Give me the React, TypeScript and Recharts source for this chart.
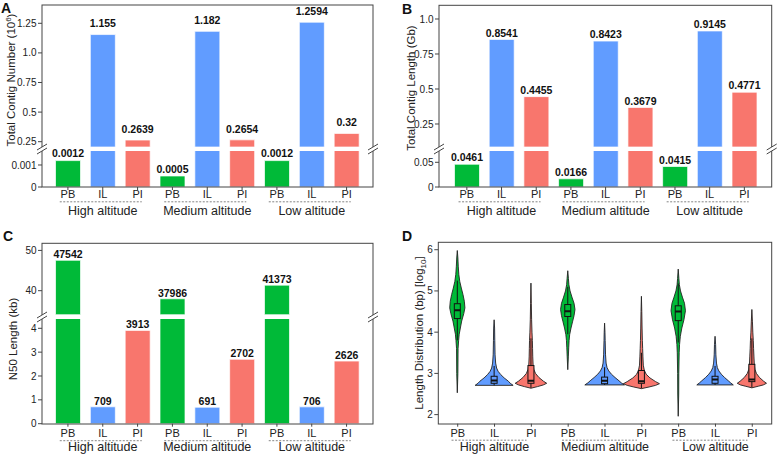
import React from "react";
import { Bar, BarChart, Cell, LabelList, XAxis, YAxis } from "recharts";

const FONT = '"Liberation Sans", Arial, Helvetica, sans-serif';
const INK = "#222";
const FRAME = "#444";

const altitudes = ["High altitude", "Medium altitude", "Low altitude"];
const groups = ["PB", "IL", "PI"];
const groupColors: Record<string, string> = { PB: "#00BA38", IL: "#619CFF", PI: "#F8766D" };

// A: total contig number (10^6), one value per altitude (High, Medium, Low)
const contigNumberPB = [0.0012, 0.0005, 0.0012];
const contigNumberIL = [1.155, 1.182, 1.2594];
const contigNumberPI = [0.2639, 0.2654, 0.32];
const contigNumberUpperTicks = [0.25, 0.5, 0.75, 1.0, 1.25];
const contigNumberUpperLabels = ["0.25", "0.5", "0.75", "1.0", "1.25"];
const contigNumberLowerTicks = [0, 0.001];
const contigNumberLowerLabels = ["0", "0.001"];

// B: total contig length (Gb)
const contigLengthPB = [0.0461, 0.0166, 0.0415];
const contigLengthIL = [0.8541, 0.8423, 0.9145];
const contigLengthPI = [0.4455, 0.3679, 0.4771];
const contigLengthUpperTicks = [0.25, 0.5, 0.75, 1.0];
const contigLengthUpperLabels = ["0.25", "0.5", "0.75", "1.0"];
const contigLengthLowerTicks = [0, 0.05];
const contigLengthLowerLabels = ["0", "0.05"];

// C: N50 length (bp, plotted in kb)
const n50PB = [47542, 37986, 41373];
const n50IL = [709, 691, 706];
const n50PI = [3913, 2702, 2626];
const n50UpperTicks = [40, 50];
const n50UpperLabels = ["40", "50"];
const n50LowerTicks = [0, 1, 2, 3, 4];
const n50LowerLabels = ["0", "1", "2", "3", "4"];

// D: contig length distribution, log10(bp); profiles are [value, relative half width]
const lengthTicks = [2, 3, 4, 5, 6];
const profileHighPB = [[2.53, 0], [3.0, 0.03], [3.6, 0.04], [3.8, 0.07], [3.95, 0.1], [4.1, 0.16], [4.27, 0.23], [4.45, 0.34], [4.59, 0.4], [4.75, 0.37], [4.91, 0.3], [5.07, 0.21], [5.23, 0.13], [5.4, 0.08], [5.6, 0.05], [5.8, 0.03], [5.98, 0]];
const profileHighIL = [[2.71, 1.0], [2.76, 0.85], [2.81, 0.75], [2.89, 0.53], [2.97, 0.35], [3.05, 0.21], [3.13, 0.13], [3.25, 0.08], [3.45, 0.05], [3.8, 0.035], [4.1, 0.025], [4.3, 0]];
const profileHighPI = [[2.64, 0], [2.68, 0.35], [2.72, 0.65], [2.76, 0.83], [2.81, 0.66], [2.9, 0.42], [3.0, 0.24], [3.1, 0.15], [3.2, 0.115], [3.4, 0.095], [3.6, 0.085], [3.8, 0.075], [4.0, 0.055], [4.3, 0.035], [4.7, 0.02], [5.19, 0]];
const profileMediumPB = [[3.09, 0], [3.4, 0.03], [3.62, 0.05], [3.8, 0.07], [3.94, 0.1], [4.1, 0.17], [4.25, 0.25], [4.4, 0.33], [4.55, 0.38], [4.7, 0.33], [4.85, 0.22], [5.0, 0.12], [5.15, 0.06], [5.3, 0.035], [5.49, 0]];
const profileMediumIL = [[2.72, 1.04], [2.77, 0.88], [2.82, 0.76], [2.9, 0.55], [2.98, 0.36], [3.06, 0.22], [3.14, 0.13], [3.25, 0.08], [3.45, 0.05], [3.8, 0.03], [4.0, 0.02], [4.22, 0]];
const profileMediumPI = [[2.63, 0], [2.67, 0.4], [2.71, 0.75], [2.75, 0.95], [2.8, 0.75], [2.89, 0.45], [2.98, 0.25], [3.08, 0.15], [3.2, 0.1], [3.4, 0.08], [3.6, 0.065], [3.8, 0.05], [4.1, 0.035], [4.5, 0.02], [4.87, 0]];
const profileLowPB = [[1.96, 0], [2.5, 0.025], [3.0, 0.03], [3.5, 0.05], [3.7, 0.07], [3.9, 0.11], [4.1, 0.19], [4.3, 0.3], [4.52, 0.38], [4.7, 0.33], [4.85, 0.22], [5.0, 0.12], [5.15, 0.06], [5.3, 0.035], [5.53, 0]];
const profileLowIL = [[2.72, 0.96], [2.77, 0.82], [2.82, 0.7], [2.9, 0.5], [2.98, 0.33], [3.06, 0.2], [3.14, 0.12], [3.25, 0.075], [3.45, 0.045], [3.7, 0.03], [3.9, 0]];
const profileLowPI = [[2.65, 0], [2.69, 0.35], [2.72, 0.6], [2.76, 0.77], [2.81, 0.62], [2.9, 0.4], [3.0, 0.24], [3.1, 0.16], [3.2, 0.13], [3.4, 0.11], [3.6, 0.09], [3.8, 0.075], [4.0, 0.05], [4.25, 0.03], [4.55, 0]];
const violinProfiles = [profileHighPB, profileHighIL, profileHighPI, profileMediumPB, profileMediumIL, profileMediumPI, profileLowPB, profileLowIL, profileLowPI];
const boxQ1 = [4.33, 2.76, 2.76, 4.38, 2.75, 2.76, 4.28, 2.76, 2.8];
const boxMedian = [4.53, 2.83, 2.82, 4.51, 2.82, 2.81, 4.5, 2.85, 2.85];
const boxQ3 = [4.69, 2.93, 3.19, 4.67, 2.91, 3.07, 4.64, 2.93, 3.22];
const whiskerLow = [3.8, 2.71, 2.65, 3.95, 2.72, 2.64, 3.75, 2.72, 2.66];
const whiskerHigh = [5.25, 3.18, 3.85, 5.1, 3.15, 3.5, 5.18, 3.18, 3.85];

type Row = { key: string; group: string; value: number; label: string };

function buildRows(byGroup: Record<string, number[]>, divisor = 1): Row[] {
  const rows: Row[] = [];
  altitudes.forEach((alt, i) => {
    groups.forEach((g) => {
      const raw = byGroup[g][i];
      rows.push({ key: `${g}|${alt}`, group: g, value: raw / divisor, label: String(raw) });
    });
  });
  return rows;
}

const violinRows = violinProfiles.map((profile, i) => ({
  key: `${groups[i % 3]}|${altitudes[Math.floor(i / 3)]}`,
  group: groups[i % 3],
  profile,
  min: profile[0][0],
  max: profile[profile.length - 1][0],
  q1: boxQ1[i],
  median: boxMedian[i],
  q3: boxQ3[i],
  whiskerLow: whiskerLow[i],
  whiskerHigh: whiskerHigh[i],
}));

type Geom = {
  left: number; width: number; plotLeft: number; plotRight: number;
  top: number; breakTop: number; breakBottom: number; bottom: number;
  axisHeight: number; padL: number; padR: number;
  catDy: number; dashDy: number; groupDy: number; dashL: number; dashR: number;
};

function CategoryTick(props: any) {
  const { x, y, payload, catDy, dashDy, groupDy, dashL, dashR } = props;
  const [group, altitude] = String(payload.value).split("|");
  return (
    <g>
      <text x={x} y={y + catDy} textAnchor="middle" fontSize={11} fill={INK}>{group}</text>
      {group === "IL" && (
        <g>
          <line x1={x - dashL} x2={x + dashR} y1={y + dashDy} y2={y + dashDy} stroke="#666" strokeWidth={0.8} strokeDasharray="2 1.5" />
          <text x={x} y={y + groupDy} textAnchor="middle" fontSize={12.5} fill={INK}>{altitude}</text>
        </g>
      )}
    </g>
  );
}

const valueLabel = (lift: number) => (props: any) => {
  const vb = props.viewBox ?? props;
  if (props.value == null || props.value === "") return null;
  return (
    <text x={vb.x + vb.width / 2} y={vb.y - lift} textAnchor="middle" fontSize={10.5} fontWeight="bold" fill="#111">
      {props.value}
    </text>
  );
};

function yAxisProps(ticks: number[], labels: string[], domain: number[], width: number) {
  return {
    type: "number" as const,
    domain,
    allowDataOverflow: true,
    ticks,
    interval: 0 as const,
    width,
    axisLine: false,
    tickSize: 4,
    tickMargin: 1.5,
    tickLine: { stroke: FRAME },
    tick: { fontSize: 10, fill: INK },
    tickFormatter: (v: number) => labels[ticks.indexOf(v)] ?? String(v),
  };
}

function BrokenBarPanel(props: {
  g: Geom; rows: Row[];
  upperDomain: number[]; lowerDomain: number[];
  upperTicks: number[]; upperLabels: string[]; lowerTicks: number[]; lowerLabels: string[];
  upperLift: number; lowerLift: number;
}) {
  const { g, rows, upperDomain, lowerDomain } = props;
  const data = rows.map((r) => ({
    ...r,
    hi: r.value >= upperDomain[0] ? r.value : null,
    hiLabel: r.value >= upperDomain[0] ? r.label : null,
    loLabel: r.value <= lowerDomain[1] ? r.label : null,
  }));
  const yw = g.plotLeft - g.left;
  const mr = g.left + g.width - g.plotRight;
  const bars = (valueKey: string, labelKey: string, lift: number) => (
    <Bar dataKey={valueKey} barSize={25} isAnimationActive={false} stroke="#fff" strokeWidth={0.7}>
      {data.map((r) => <Cell key={r.key} fill={groupColors[r.group]} />)}
      <LabelList dataKey={labelKey} content={valueLabel(lift)} />
    </Bar>
  );
  return (
    <>
      <div style={{ position: "absolute", left: g.left, top: g.top }}>
        <BarChart width={g.width} height={g.breakTop - g.top} data={data} margin={{ top: 0, right: mr, bottom: 0, left: 0 }}>
          <XAxis dataKey="key" hide padding={{ left: g.padL, right: g.padR }} />
          <YAxis {...yAxisProps(props.upperTicks, props.upperLabels, upperDomain, yw)} />
          {bars("hi", "hiLabel", props.upperLift)}
        </BarChart>
      </div>
      <div style={{ position: "absolute", left: g.left, top: g.breakBottom }}>
        <BarChart width={g.width} height={g.bottom - g.breakBottom + g.axisHeight} data={data} margin={{ top: 0, right: mr, bottom: 0, left: 0 }}>
          <XAxis
            dataKey="key"
            height={g.axisHeight}
            padding={{ left: g.padL, right: g.padR }}
            interval={0}
            axisLine={false}
            tickSize={3}
            tickMargin={2}
            tickLine={{ stroke: FRAME }}
            tick={<CategoryTick catDy={g.catDy} dashDy={g.dashDy} groupDy={g.groupDy} dashL={g.dashL} dashR={g.dashR} />}
          />
          <YAxis {...yAxisProps(props.lowerTicks, props.lowerLabels, lowerDomain, yw)} />
          {bars("value", "loLabel", props.lowerLift)}
        </BarChart>
      </div>
    </>
  );
}

const VIOLIN_HALF = 19;

function ViolinShape(props: any) {
  const { x, y, width, height, payload } = props;
  if (!payload || !height) return null;
  const p = payload;
  const cx = x + width / 2;
  const yOf = (v: number) => y + (height * (p.max - v)) / (p.max - p.min);
  const right = p.profile.map(([v, w]: number[]) => `${(cx + w * VIOLIN_HALF).toFixed(2)},${yOf(v).toFixed(2)}`);
  const left = [...p.profile].reverse().map(([v, w]: number[]) => `${(cx - w * VIOLIN_HALF).toFixed(2)},${yOf(v).toFixed(2)}`);
  const d = `M${right.join("L")}L${left.join("L")}Z`;
  const bw = 3;
  const color = groupColors[p.group];
  return (
    <g>
      <path d={d} fill={color} stroke="#222" strokeWidth={0.9} strokeLinejoin="round" />
      <line x1={cx} x2={cx} y1={yOf(p.whiskerLow)} y2={yOf(p.q1)} stroke="#111" strokeWidth={1} />
      <line x1={cx} x2={cx} y1={yOf(p.q3)} y2={yOf(p.whiskerHigh)} stroke="#111" strokeWidth={1} />
      <rect x={cx - bw} y={yOf(p.q3)} width={bw * 2} height={yOf(p.q1) - yOf(p.q3)} fill={color} stroke="#111" strokeWidth={1} />
      <line x1={cx - bw} x2={cx + bw} y1={yOf(p.median)} y2={yOf(p.median)} stroke="#111" strokeWidth={2} />
    </g>
  );
}

const geomA: Geom = { left: 0, width: 390, plotLeft: 42, plotRight: 373, top: 5, breakTop: 147, breakBottom: 151, bottom: 187, axisHeight: 40, padL: 8.5, padR: 9, catDy: 5.8, dashDy: 9.8, groupDy: 23, dashL: 43, dashR: 39 };
const geomB: Geom = { left: 390, width: 387, plotLeft: 439, plotRight: 771.7, top: 5.3, breakTop: 147.3, breakBottom: 151, bottom: 187, axisHeight: 40, padL: 10.5, padR: 10, catDy: 5.8, dashDy: 9.8, groupDy: 23, dashL: 43, dashR: 39 };
const geomC: Geom = { left: 0, width: 390, plotLeft: 42, plotRight: 373, top: 243.3, breakTop: 315, breakBottom: 319.3, bottom: 424, axisHeight: 31, padL: 8.5, padR: 9, catDy: 8.5, dashDy: 12, groupDy: 22.8, dashL: 43, dashR: 39 };
const geomD = { left: 390, width: 387, plotLeft: 438.3, plotRight: 771.7, top: 242.3, bottom: 424, axisHeight: 31 };

function BreakMark({ x, y }: { x: number; y: number }) {
  return (
    <g>
      <rect x={x - 2} y={y - 2} width={4} height={4} fill="#fff" />
      <line x1={x - 5} y1={y + 1} x2={x + 5} y2={y - 5} stroke={FRAME} strokeWidth={1} />
      <line x1={x - 5} y1={y + 5} x2={x + 5} y2={y - 1} stroke={FRAME} strokeWidth={1} />
    </g>
  );
}

function Overlay() {
  const frame = (l: number, t: number, r: number, b: number) => (
    <rect x={l} y={t} width={r - l} height={b - t} fill="none" stroke={FRAME} strokeWidth={1} />
  );
  return (
    <svg width={777} height={455} style={{ position: "absolute", left: 0, top: 0, pointerEvents: "none" }}>
      {frame(geomA.plotLeft, geomA.top, geomA.plotRight, geomA.bottom)}
      {frame(geomB.plotLeft, geomB.top, geomB.plotRight, geomB.bottom)}
      {frame(geomC.plotLeft, geomC.top, geomC.plotRight, geomC.bottom)}
      {frame(geomD.plotLeft, geomD.top, geomD.plotRight, geomD.bottom)}
      <BreakMark x={geomA.plotLeft} y={149} />
      <BreakMark x={geomA.plotRight} y={149} />
      <BreakMark x={geomB.plotLeft} y={149} />
      <BreakMark x={geomB.plotRight} y={149} />
      <BreakMark x={geomC.plotLeft} y={317} />
      <BreakMark x={geomC.plotRight} y={317} />
      <g fontSize={11.5} fill={INK}>
        <text transform="translate(14.5,80) rotate(-90)" textAnchor="middle">
          Total Contig Number (10<tspan dy={-4} fontSize={8}>6</tspan><tspan dy={4}>)</tspan>
        </text>
        <text transform="translate(414.5,88) rotate(-90)" textAnchor="middle">Total Contig Length (Gb)</text>
        <text transform="translate(17,339) rotate(-90)" textAnchor="middle">N50 Length (kb)</text>
        <text transform="translate(423,333) rotate(-90)" textAnchor="middle">
          Length Distribution (bp) [log<tspan dy={3} fontSize={8}>10</tspan><tspan dy={-3}>]</tspan>
        </text>
      </g>
      <g fontSize={14} fontWeight="bold" fill="#111">
        <text x={1} y={13}>A</text>
        <text x={402} y={13.5}>B</text>
        <text x={3} y={241}>C</text>
        <text x={402} y={241}>D</text>
      </g>
    </svg>
  );
}

export default function App() {
  const rowsA = buildRows({ PB: contigNumberPB, IL: contigNumberIL, PI: contigNumberPI });
  const rowsB = buildRows({ PB: contigLengthPB, IL: contigLengthIL, PI: contigLengthPI });
  const rowsC = buildRows({ PB: n50PB, IL: n50IL, PI: n50PI }, 1000);
  return (
    <div style={{ position: "absolute", left: 0, top: 0, width: 777, height: 455, background: "#fff", fontFamily: FONT, overflow: "hidden" }}>
      <style>{".recharts-surface{overflow:visible}"}</style>
      <BrokenBarPanel
        g={geomA} rows={rowsA}
        upperDomain={[0.2052, 1.4046]} lowerDomain={[0, 0.001636]}
        upperTicks={contigNumberUpperTicks} upperLabels={contigNumberUpperLabels}
        lowerTicks={contigNumberLowerTicks} lowerLabels={contigNumberLowerLabels}
        upperLift={7.2} lowerLift={3.4}
      />
      <BrokenBarPanel
        g={geomB} rows={rowsB}
        upperDomain={[0.0857, 1.1]} lowerDomain={[0, 0.0729]}
        upperTicks={contigLengthUpperTicks} upperLabels={contigLengthUpperLabels}
        lowerTicks={contigLengthLowerTicks} lowerLabels={contigLengthLowerLabels}
        upperLift={2.9} lowerLift={2.9}
      />
      <BrokenBarPanel
        g={geomC} rows={rowsC}
        upperDomain={[34.04, 51.84]} lowerDomain={[0, 4.39]}
        upperTicks={n50UpperTicks} upperLabels={n50UpperLabels}
        lowerTicks={n50LowerTicks} lowerLabels={n50LowerLabels}
        upperLift={2.2} lowerLift={2.2}
      />
      <div style={{ position: "absolute", left: geomD.left, top: geomD.top }}>
        <BarChart
          width={geomD.width}
          height={geomD.bottom - geomD.top + geomD.axisHeight}
          data={violinRows}
          margin={{ top: 0, right: geomD.left + geomD.width - geomD.plotRight, bottom: 0, left: 0 }}
        >
          <XAxis
            dataKey="key"
            height={geomD.axisHeight}
            padding={{ left: 1, right: 1 }}
            interval={0}
            axisLine={false}
            tickSize={3}
            tickMargin={2}
            tickLine={{ stroke: FRAME }}
            tick={<CategoryTick catDy={8.5} dashDy={11.5} groupDy={22.2} dashL={43} dashR={32} />}
          />
          <YAxis {...yAxisProps(lengthTicks, lengthTicks.map(String), [1.78, 6.187], geomD.plotLeft - geomD.left)} />
          <Bar dataKey={(d: any) => [d.min, d.max]} barSize={10} shape={ViolinShape} isAnimationActive={false} />
        </BarChart>
      </div>
      <Overlay />
    </div>
  );
}
